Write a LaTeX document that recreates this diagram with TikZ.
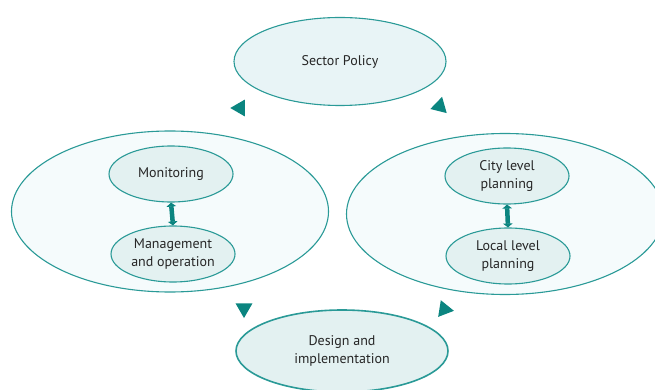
\documentclass[tikz,border=0pt]{standalone}
\usepackage{fontspec}
\setmainfont{PT Sans}
\usetikzlibrary{shapes.geometric,arrows.meta}
\definecolor{tealline}{HTML}{2A9A97}
\definecolor{tealdark}{HTML}{0B8580}
\definecolor{innerfill}{HTML}{E3F1F1}
\definecolor{outerfill}{HTML}{F5FBFC}
\definecolor{topfill}{HTML}{E8F4F6}

\begin{document}
\begin{tikzpicture}[x=1pt,y=-1pt,
  blob/.style={ellipse,draw=tealline,line width=1.1pt,inner sep=0pt,align=center,
    font=\fontsize{14}{18}\selectfont,text=black!85},
  small/.style={blob,fill=innerfill,minimum width=124pt,minimum height=56pt},
  big/.style={blob,fill=outerfill,minimum width=317pt,minimum height=161pt},
  stage/.style={blob,fill=topfill,minimum width=212pt,minimum height=88pt},
  tri/.style={regular polygon,regular polygon sides=3,fill=tealdark,minimum size=19.5pt,inner sep=0pt},
  link/.style={tealdark,line width=4.5pt,{Triangle[length=4pt,width=9.5pt]}-{Triangle[length=4pt,width=9.5pt]}}]
\useasboundingbox (0,0) rectangle (655,390);
\node[stage] (policy) at (340,61.5) {Sector Policy}; % top
\node[big] (left) at (170,211.5) {}; % left group
\node[big] (right) at (505,214) {}; % right group
\node[small] (mon) at (171,174) {Monitoring};
\node[small] (man) at (173,254) {Management\\and operation};
\node[small] (city) at (507,176) {City level\\planning};
\node[small] (local) at (508,256) {Local level\\planning};
\node[stage,fill=innerfill,line width=1.6pt,minimum height=82pt] (design) at (342,351) {Design and\\implementation}; % bottom
\draw[link] (mon.south) -- (man.north);
\draw[link] (city.south) -- (local.north);
\node[tri,rotate=90] (t1) at (240,108) {};
\node[tri,rotate=-14] (t2) at (439.7,106.3) {};
\node[tri,rotate=180] (t3) at (244,308.3) {};
\node[tri,rotate=-99] (t4) at (444.3,309.3) {};
\end{tikzpicture}
\end{document}
